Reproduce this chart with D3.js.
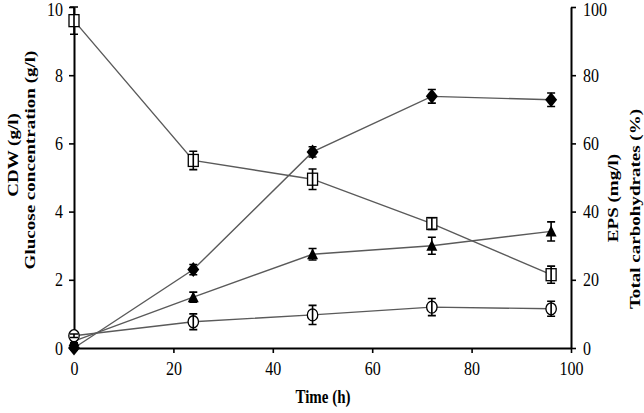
<!DOCTYPE html>
<html>
<head>
<meta charset="utf-8">
<script src="https://cdn.jsdelivr.net/npm/d3@7"></script>
<style>
    body { margin: 0; background: #fff; }
    svg text { font-family: "Liberation Serif", "Times New Roman", serif; fill: #000; }
</style>
</head>
<body>
<svg id="chart" width="644" height="413"></svg>
<script>
// sampling times (h)
var timeH = [0, 24, 48, 72, 96];

// left axis series (g/l)
var glucose = [9.6, 5.5, 4.95, 3.65, 2.15],
    glucoseErr = [0.4, 0.27, 0.3, 0.17, 0.25],
    cdw = [0.2, 1.49, 2.75, 3.0, 3.42],
    cdwErr = [0.05, 0.15, 0.17, 0.25, 0.28];

// right axis series
var eps = [0, 23, 57.5, 73.8, 72.8],
    epsErr = [0.5, 1.5, 1.5, 2, 2],
    carbs = [3.6, 7.7, 9.7, 12, 11.5],
    carbsErr = [0.5, 2.3, 2.8, 2.5, 2.2];

var xTicks = [0, 20, 40, 60, 80, 100],
    leftTicks = [0, 2, 4, 6, 8, 10],
    rightTicks = [0, 20, 40, 60, 80, 100];

function drawChart() {

    'use strict';
    /*global d3*/

    var svg = d3.select("#chart"),
        x = d3.scaleLinear().domain([0, 100]).range([74, 571]),
        yL = d3.scaleLinear().domain([0, 10]).range([348, 7]),
        yR = d3.scaleLinear().domain([0, 100]).range([348, 7]),
        lineColor = "#5a5a5a",
        series;

    series = [
        {vals: glucose, err: glucoseErr, y: yL, shape: "square"},
        {vals: eps, err: epsErr, y: yR, shape: "diamond"},
        {vals: cdw, err: cdwErr, y: yL, shape: "triangle"},
        {vals: carbs, err: carbsErr, y: yR, shape: "circle"}
    ];

    /**
      * Build point objects for one series.
      */
    function points(s) {
        return timeH.map(function (t, i) {
            return {t: t, v: s.vals[i], e: s.err[i]};
        });
    }

    //
    // axes (the source figure is a bit stretched vertically, so the
    // tick labels get a small vertical scale)
    //
    var gx = svg.append("g")
        .attr("transform", "translate(0," + yL(0) + ")")
        .call(d3.axisBottom(x).tickValues(xTicks).tickSize(5).tickSizeOuter(0).tickPadding(3));
    var gl = svg.append("g")
        .attr("transform", "translate(" + x(0) + ",0)")
        .call(d3.axisLeft(yL).tickValues(leftTicks).tickSize(5).tickSizeOuter(0).tickPadding(6));
    var gr = svg.append("g")
        .attr("transform", "translate(" + x(100) + ",0)")
        .call(d3.axisRight(yR).tickValues(rightTicks).tickSize(5).tickSizeOuter(0).tickPadding(7));

    [gx, gl, gr].forEach(function (g) {
        g.select(".domain").attr("stroke", "#000").attr("stroke-width", 2);
        g.selectAll(".tick line").attr("stroke", "#000").attr("stroke-width", 1.6);
        g.selectAll(".tick text")
            .style("font-family", '"Liberation Serif", "Times New Roman", serif')
            .style("font-size", "16px")
            .attr("fill", "#222")
            .attr("transform", "scale(1,1.2)");
    });
    gx.selectAll(".tick text").attr("dy", "0.9em");
    // keep the topmost labels inside the picture
    [gl, gr].forEach(function (g) {
        g.selectAll(".tick text")
            .filter(function (d, i, nodes) { return i === nodes.length - 1; })
            .attr("dy", "0.45em");
    });

    //
    // axis titles
    //
    function vTitle(tx, ty, label) {
        svg.append("text")
            .attr("transform", "translate(" + tx + "," + ty + ") rotate(-90) scale(1.27,1)")
            .attr("text-anchor", "middle")
            .style("font-weight", "bold").style("font-size", "15px")
            .text(label);
    }
    vTitle(18, 155, "CDW (g/l)");
    vTitle(35, 160, "Glucose concentration (g/l)");
    vTitle(618, 198, "EPS (mg/l)");
    vTitle(640, 209, "Total carbohydrates (%)");

    svg.append("text")
        .attr("x", 323).attr("y", 403)
        .attr("text-anchor", "middle")
        .attr("transform", "translate(0,-80.6) scale(1,1.2)")
        .style("font-weight", "bold").style("font-size", "15px")
        .text("Time (h)");

    //
    // connecting lines
    //
    series.forEach(function (s) {
        var line = d3.line()
            .x(function (d) { return x(d.t); })
            .y(function (d) { return s.y(d.v); });
        svg.append("path")
            .datum(points(s))
            .attr("d", line)
            .attr("fill", "none")
            .attr("stroke", lineColor)
            .attr("stroke-width", 1.4);
    });

    //
    // markers and error bars
    //
    series.forEach(function (s) {
        var g = svg.append("g"),
            pts = points(s),
            mk = g.selectAll(".mk").data(pts).enter().append("g")
                .attr("transform", function (d) {
                    return "translate(" + x(d.t) + "," + s.y(d.v) + ")";
                });

        if (s.shape === "square") {
            mk.append("rect")
                .attr("x", -5).attr("y", -6).attr("width", 10).attr("height", 12)
                .attr("fill", "#fff").attr("stroke", "#000").attr("stroke-width", 1.3);
        } else if (s.shape === "circle") {
            mk.append("ellipse")
                .attr("rx", 5.2).attr("ry", 6)
                .attr("fill", "#fff").attr("stroke", "#000").attr("stroke-width", 1.3);
        } else if (s.shape === "triangle") {
            mk.append("path")
                .attr("d", "M0,-6L5.5,5L-5.5,5Z")
                .attr("fill", "#000");
        } else {
            mk.append("path")
                .attr("d", "M0,-7.5L6,0L0,7.5L-6,0Z")
                .attr("fill", "#000");
        }

        g.selectAll(".eb").data(pts).enter().append("path")
            .attr("d", function (d) {
                var cx = x(d.t),
                    y1 = s.y(d.v + d.e),
                    y2 = s.y(d.v - d.e);
                return "M" + cx + "," + y1 + "V" + y2 +
                    "M" + (cx - 4) + "," + y1 + "H" + (cx + 4) +
                    "M" + (cx - 4) + "," + y2 + "H" + (cx + 4);
            })
            .attr("fill", "none")
            .attr("stroke", "#000")
            .attr("stroke-width", 1.6);
    });
}

drawChart();
</script>
</body>
</html>
